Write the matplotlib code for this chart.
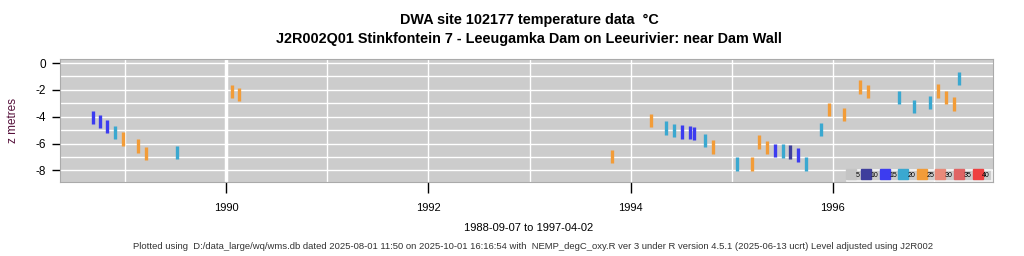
import numpy as np
import pandas as pd
import matplotlib
matplotlib.use("Agg")
import matplotlib.pyplot as plt
import matplotlib.dates as mdates
from matplotlib.lines import Line2D

plt.rcParams["font.family"] = ["Liberation Sans", "DejaVu Sans"]
plt.rcParams["axes.unicode_minus"] = False

# ----------------------------------------------------------------------
# Data
# ----------------------------------------------------------------------
sample_dates = [
    "1988-09-07", "1988-10-03", "1988-10-26", "1988-11-24", "1988-12-22",
    "1989-02-16", "1989-03-16", "1989-07-06", "1990-01-22", "1990-02-16",
    "1993-10-27", "1994-03-15", "1994-05-08", "1994-06-06", "1994-07-04",
    "1994-08-03", "1994-08-19", "1994-09-26", "1994-10-25", "1995-01-20",
    "1995-03-14", "1995-04-09", "1995-05-08", "1995-06-06", "1995-07-04",
    "1995-07-30", "1995-08-28", "1995-09-26", "1995-11-19", "1995-12-18",
    "1996-02-11", "1996-04-09", "1996-05-08", "1996-08-28", "1996-10-22",
    "1996-12-19", "1997-01-14", "1997-02-12", "1997-03-13", "1997-04-02",
]
depth_m = [
    -4.07, -4.37, -4.74, -5.19, -5.67, -6.20, -6.76, -6.68, -2.13, -2.35,
    -6.98, -4.29, -4.85, -5.04, -5.15, -5.19, -5.26, -5.78, -6.25, -7.54,
    -7.54, -5.90, -6.31, -6.53, -6.57, -6.64, -6.87, -7.54, -4.96, -3.47,
    -3.84, -1.79, -2.13, -2.58, -3.25, -2.95, -2.09, -2.58, -3.06, -1.16,
]
temp_c = [
    14, 14, 14, 18, 22, 22, 22, 18, 22, 22,
    22, 22, 18, 18, 14, 14, 14, 18, 22, 18,
    22, 22, 22, 14, 18, 10, 14, 18, 18, 22,
    22, 22, 22, 18, 18, 18, 22, 22, 22, 18,
]

bin_labels = ["5", "10", "15", "20", "25", "30", "35", "40"]
bin_edges = [5, 10, 15, 20, 25, 30, 35, 40]
bin_colors = ["#c4c4c4", "#3e3e9c", "#3c3cf0", "#3aa8d0",
              "#f29c38", "#e88a7a", "#e06464", "#ee4040"]

title = "DWA site 102177 temperature data  \u00b0C\nJ2R002Q01 Stinkfontein 7 - Leeugamka Dam on Leeurivier: near Dam Wall"
footer = ("Plotted using  D:/data_large/wq/wms.db dated 2025-08-01 11:50 on 2025-10-01 16:16:54 with  "
          "NEMP_degC_oxy.R ver 3 under R version 4.5.1 (2025-06-13 ucrt) Level adjusted using J2R002")

# ----------------------------------------------------------------------
# Plot
# ----------------------------------------------------------------------
dates = pd.to_datetime(sample_dates)
depth = np.asarray(depth_m)
idx = np.clip(np.digitize(temp_c, bin_edges, right=True), 0, len(bin_colors) - 1)
colors = [bin_colors[i] for i in idx]

fig = plt.figure(figsize=(10.24, 2.56), dpi=100)
ax = fig.add_axes([0.0586, 0.289, 0.9111, 0.4805])
ax.set_facecolor("#cccccc")

# yearly grid, 1990 drawn heavier
for yr in range(1988, 1999):
    ax.axvline(pd.Timestamp(f"{yr}-01-01"), color="white",
               lw=2.5 if yr == 1990 else 1.0, zorder=0)
for z in range(-8, 1):
    ax.axhline(z, color="white", lw=1.0, zorder=0)

ax.vlines(dates, depth - 0.5, depth + 0.5, colors=colors, lw=2.4, zorder=2)

ax.set_xlim(pd.Timestamp("1988-05-10"), pd.Timestamp("1997-08-02"))
ax.set_ylim(-8.87, 0.3)
ax.xaxis.set_major_locator(mdates.YearLocator(2))
ax.xaxis.set_major_formatter(mdates.DateFormatter("%Y"))
ax.set_yticks([0, -2, -4, -6, -8])
ax.tick_params(axis="x", length=8, width=1, pad=7, labelsize=8)
ax.tick_params(axis="y", length=6, width=1, pad=4, labelsize=8.5)
for s in ax.spines.values():
    s.set_color("#aaaaaa")
ax.set_ylabel("z metres", color="#55103a", fontsize=8.5, labelpad=12)

handles = [Line2D([], [], ls="", marker="s", ms=6.5, mfc=c, mec=c) for c in bin_colors]
leg = ax.legend(handles, bin_labels, loc="lower right", ncol=8, fontsize=5.0,
                handlelength=0.8, handletextpad=0.25, columnspacing=0.5,
                borderpad=0.3, borderaxespad=0.15, frameon=True, fancybox=False)
leg.get_frame().set_facecolor("#cccccc")
leg.get_frame().set_edgecolor("white")
leg.get_frame().set_linewidth(1.2)

fig.text(0.517, 0.885, title, ha="center", va="center", fontsize=10.4,
         fontweight="bold", linespacing=1.4)
fig.text(0.516, 0.108, "1988-09-07 to 1997-04-02", ha="center", va="center", fontsize=8)
fig.text(0.521, 0.038, footer, ha="center", va="center", fontsize=6.8, color="#333333")

fig.savefig("out.png", dpi=100)
